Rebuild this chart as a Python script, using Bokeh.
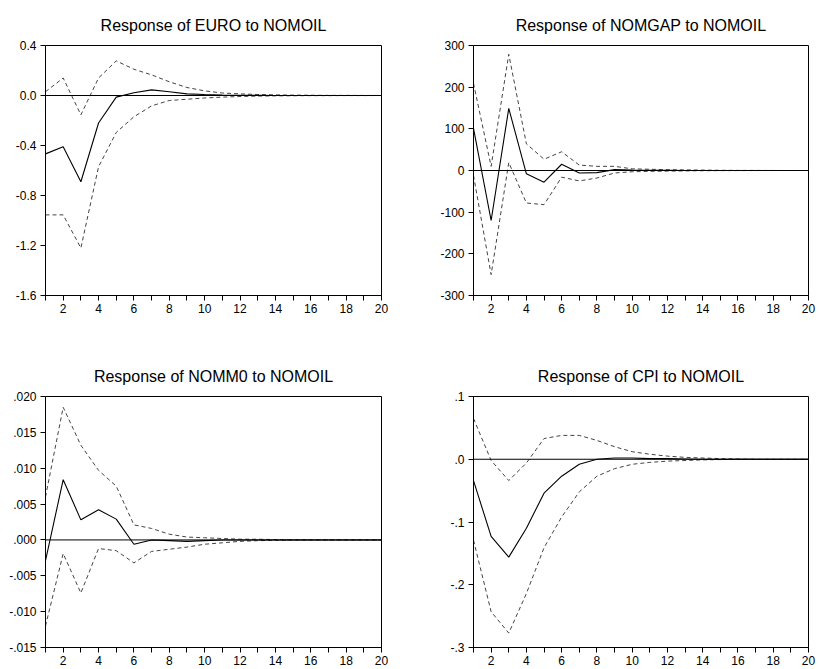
from bokeh.plotting import figure
from bokeh.layouts import column, row
from bokeh.models import FixedTicker, Range1d, Span
from bokeh.embed import file_html
from bokeh.resources import INLINE

periods = list(range(1, 21))

euro_resp = [-0.467, -0.41, -0.69, -0.22, -0.013, 0.022, 0.045, 0.03, 0.013, 0.008,
             0.004, 0.002, 0.001, 0.0005, 0.0, 0.0, 0.0, 0.0, 0.0, 0.0]
euro_upper = [0.03, 0.14, -0.155, 0.14, 0.277, 0.21, 0.165, 0.11, 0.064, 0.037,
              0.02, 0.013, 0.008, 0.005, 0.003, 0.002, 0.001, 0.001, 0.0005, 0.0005]
euro_lower = [-0.955, -0.955, -1.22, -0.57, -0.296, -0.17, -0.083, -0.04, -0.03, -0.02,
              -0.013, -0.008, -0.005, -0.003, -0.002, -0.001, -0.001, -0.0005, -0.0005, 0.0]

gap_resp = [101, -120, 149, -8, -28, 15, -6, -5, 2, 1,
            0.5, 0.3, 0.0, 0.0, 0.0, 0.0, 0.0, 0.0, 0.0, 0.0]
gap_upper = [209, 10, 279, 64, 27, 45, 13, 10, 10, 4,
             3, 2, 1.5, 1, 0.5, 0.3, 0.2, 0.1, 0.0, 0.0]
gap_lower = [-12, -250, 19, -78, -82, -16, -25, -18, -6, -3,
             -2, -1.5, -1, -0.5, -0.3, -0.2, -0.1, 0.0, 0.0, 0.0]

m0_resp = [-0.0029, 0.0084, 0.0028, 0.0042, 0.0029, -0.0006, 0.0, -0.0001, -0.0002, -0.0001,
           0.0, 0.0, 0.0, 0.0, 0.0, 0.0, 0.0, 0.0, 0.0, 0.0]
m0_upper = [0.006, 0.0185, 0.0132, 0.0097, 0.0075, 0.0021, 0.0016, 0.0008, 0.0004, 0.0003,
            0.0002, 0.0001, 0.0001, 0.00005, 0.0, 0.0, 0.0, 0.0, 0.0, 0.0]
m0_lower = [-0.012, -0.0019, -0.0074, -0.0012, -0.0015, -0.0032, -0.0016, -0.0013, -0.001, -0.0006,
            -0.0004, -0.0002, -0.0001, -0.00005, 0.0, 0.0, 0.0, 0.0, 0.0, 0.0]

cpi_resp = [-0.034, -0.123, -0.156, -0.11, -0.054, -0.027, -0.008, 0.0, 0.002, 0.002,
            0.001, 0.001, 0.0005, 0.0, 0.0, 0.0, 0.0, 0.0, 0.0, 0.0]
cpi_upper = [0.065, -0.002, -0.034, -0.006, 0.033, 0.038, 0.038, 0.03, 0.02, 0.012,
             0.008, 0.005, 0.003, 0.002, 0.001, 0.0005, 0.0, 0.0, 0.0, 0.0]
cpi_lower = [-0.129, -0.243, -0.277, -0.214, -0.141, -0.092, -0.052, -0.027, -0.015, -0.008,
             -0.005, -0.003, -0.002, -0.001, -0.0005, 0.0, 0.0, 0.0, 0.0, 0.0]

titles = ["Response of EURO to NOMOIL", "Response of NOMGAP to NOMOIL",
          "Response of NOMM0 to NOMOIL", "Response of CPI to NOMOIL"]

euro_ticks = [0.4, 0.0, -0.4, -0.8, -1.2, -1.6]
euro_labels = ["0.4", "0.0", "-0.4", "-0.8", "-1.2", "-1.6"]
gap_ticks = [300, 200, 100, 0, -100, -200, -300]
gap_labels = ["300", "200", "100", "0", "-100", "-200", "-300"]
m0_ticks = [0.02, 0.015, 0.01, 0.005, 0.0, -0.005, -0.01, -0.015]
m0_labels = [".020", ".015", ".010", ".005", ".000", "-.005", "-.010", "-.015"]
cpi_ticks = [0.1, 0.0, -0.1, -0.2, -0.3]
cpi_labels = [".1", ".0", "-.1", "-.2", "-.3"]


def panel(title, resp, upper, lower, yticks, ylabels, width, height, borders):
    left, right, top, bottom = borders
    p = figure(width=width, height=height, output_backend="svg", toolbar_location=None,
               x_range=Range1d(1, 20), y_range=Range1d(min(yticks), max(yticks)),
               min_border_left=left, min_border_right=right,
               min_border_top=top, min_border_bottom=bottom)
    p.title.text = title
    p.title.align = "center"
    p.title.text_font_size = "16px"
    p.title.text_font_style = "normal"
    p.title.text_color = "black"
    p.title.standoff = 23
    p.outline_line_color = "black"
    p.xgrid.visible = False
    p.ygrid.visible = False

    p.xaxis.ticker = FixedTicker(ticks=periods, minor_ticks=[])
    p.yaxis.ticker = FixedTicker(ticks=yticks, minor_ticks=[])
    p.axis.major_tick_line_color = "black"
    p.axis.major_tick_out = 5
    p.axis.major_tick_in = 0
    p.axis.major_label_text_font_size = "12px"
    p.axis.major_label_text_color = "black"
    p.xaxis.major_label_overrides = {t: (str(t) if t % 2 == 0 else "") for t in periods}
    p.yaxis.major_label_overrides = {t: l for t, l in zip(yticks, ylabels)}
    p.xaxis.major_label_standoff = 3
    p.yaxis.major_label_standoff = 4

    p.add_layout(Span(location=0, dimension="width", line_color="black", line_width=1))
    p.line(periods, upper, line_color="#444444", line_width=1, line_dash="4 3")
    p.line(periods, lower, line_color="#444444", line_width=1, line_dash="4 3")
    p.line(periods, resp, line_color="black", line_width=1.1)
    return p


p1 = panel(titles[0], euro_resp, euro_upper, euro_lower, euro_ticks, euro_labels,
           408, 328, (45, 27, 45, 33))
p2 = panel(titles[1], gap_resp, gap_upper, gap_lower, gap_ticks, gap_labels,
           410, 328, (65, 10, 45, 32))
p3 = panel(titles[2], m0_resp, m0_upper, m0_lower, m0_ticks, m0_labels,
           408, 341, (45, 27, 68, 22))
p4 = panel(titles[3], cpi_resp, cpi_upper, cpi_lower, cpi_ticks, cpi_labels,
           410, 341, (65, 10, 68, 22))

layout = column(row(p1, p2, spacing=0), row(p3, p4, spacing=0), spacing=0)

open("out.html", "w").write(file_html(layout, INLINE))
